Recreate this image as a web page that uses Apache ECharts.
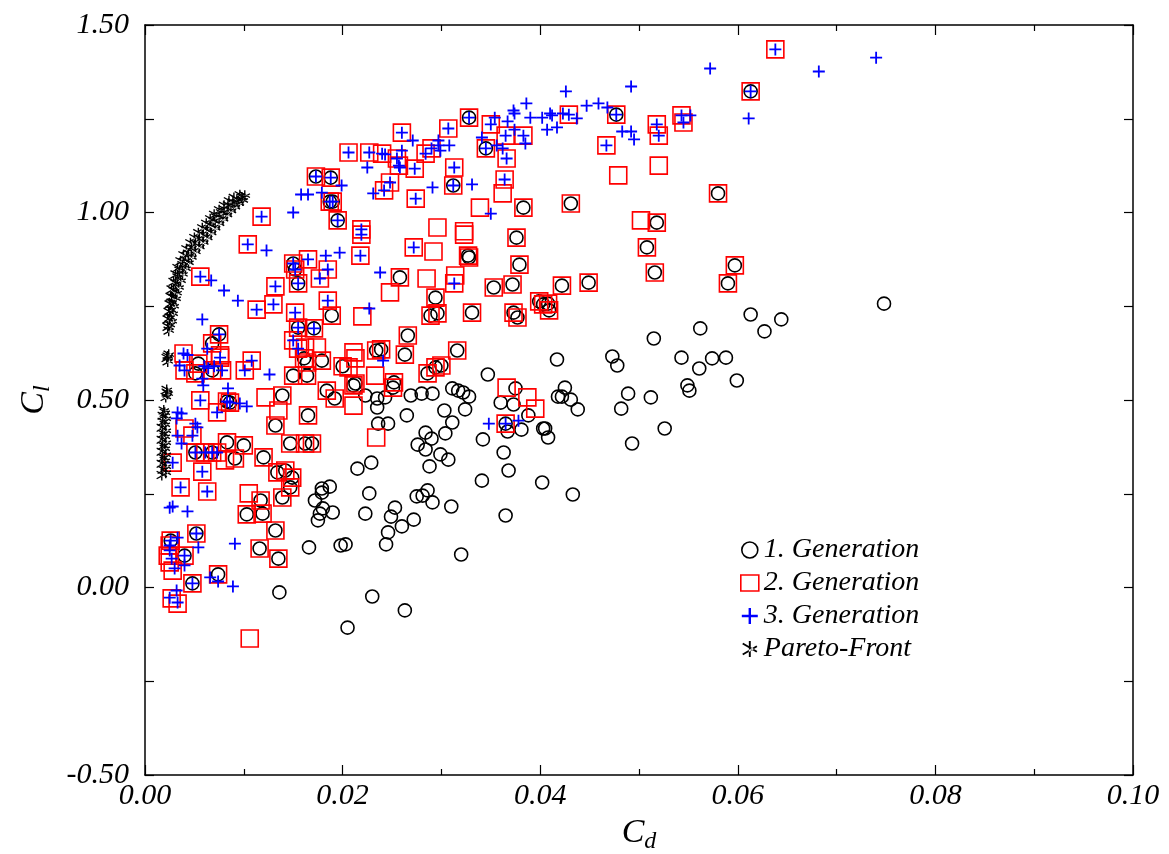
<!DOCTYPE html>
<html>
<head>
<meta charset="utf-8">
<title>Cl vs Cd</title>
<script src="https://cdn.jsdelivr.net/npm/echarts@6/dist/echarts.min.js"></script>
<style>
  html, body { margin: 0; padding: 0; background: #fff; }
  #chart { width: 1169px; height: 854px; }
</style>
</head>
<body>
<div id="chart"></div>
<script>
// Axis ticks
const xTicks = [0.00, 0.02, 0.04, 0.06, 0.08, 0.10];
const yTicks = [-0.50, 0.00, 0.50, 1.00, 1.50];

// Legend names
const seriesNames = ['1. Generation', '2. Generation', '3. Generation', 'Pareto-Front'];

// Designs present in all three generations  [Cd, Cl]
const inGen123 = [
  [0.0173, 1.096], [0.0188, 1.093], [0.0187, 1.029], [0.0190, 1.029], [0.0195, 0.979],
  [0.0328, 1.253], [0.0345, 1.171], [0.0312, 1.072], [0.0613, 1.323], [0.0477, 1.261],
  [0.0150, 0.864], [0.0152, 0.848], [0.0155, 0.811], [0.0155, 0.693], [0.0171, 0.691],
  [0.0075, 0.675], [0.0086, 0.493], [0.0083, 0.496], [0.0052, 0.144], [0.0026, 0.125],
  [0.0040, 0.085], [0.0048, 0.011], [0.0365, 0.437], [0.0051, 0.360], [0.0068, 0.360]
];

// Designs kept from generation 1 into generation 2
const inGen12 = [
  [0.0580, 1.051], [0.0431, 1.024], [0.0518, 0.973], [0.0383, 1.013],
  [0.0327, 0.885], [0.0328, 0.880], [0.0376, 0.933], [0.0379, 0.861], [0.0258, 0.827],
  [0.0294, 0.773], [0.0353, 0.800], [0.0372, 0.808], [0.0399, 0.763], [0.0403, 0.755],
  [0.0289, 0.725], [0.0296, 0.731], [0.0331, 0.733], [0.0373, 0.733], [0.0377, 0.720],
  [0.0266, 0.672], [0.0316, 0.632], [0.0234, 0.632], [0.0239, 0.635], [0.0263, 0.621],
  [0.0300, 0.592], [0.0294, 0.587], [0.0286, 0.571], [0.0213, 0.544], [0.0211, 0.539],
  [0.0252, 0.547], [0.0251, 0.533],
  [0.0508, 0.907], [0.0516, 0.840], [0.0597, 0.859], [0.0590, 0.811], [0.0422, 0.805],
  [0.0449, 0.813], [0.0408, 0.757], [0.0409, 0.739],
  [0.0189, 0.725], [0.0161, 0.611], [0.0164, 0.600], [0.0179, 0.605], [0.0150, 0.565],
  [0.0164, 0.565], [0.0184, 0.525], [0.0192, 0.504], [0.0139, 0.512], [0.0165, 0.459],
  [0.0132, 0.432], [0.0068, 0.651], [0.0051, 0.571], [0.0068, 0.579], [0.0054, 0.597],
  [0.0200, 0.590],
  [0.0083, 0.387], [0.0100, 0.379], [0.0091, 0.344], [0.0120, 0.347], [0.0134, 0.307],
  [0.0142, 0.312], [0.0149, 0.293], [0.0147, 0.267], [0.0139, 0.240], [0.0117, 0.232],
  [0.0119, 0.197], [0.0103, 0.195], [0.0132, 0.152], [0.0116, 0.104], [0.0135, 0.077],
  [0.0074, 0.035], [0.0147, 0.384], [0.0162, 0.384], [0.0169, 0.384]
];

// Designs of generation 2 kept into generation 3
const inGen23 = [
  [0.0118, 0.989],
  [0.0307, 1.224], [0.0350, 1.235], [0.0365, 1.205], [0.0383, 1.205], [0.0366, 1.144],
  [0.0260, 1.213], [0.0290, 1.171], [0.0206, 1.160], [0.0227, 1.160], [0.0255, 1.144],
  [0.0273, 1.117], [0.0284, 1.157], [0.0248, 1.080], [0.0242, 1.059], [0.0313, 1.120],
  [0.0274, 1.037], [0.0364, 1.088], [0.0219, 0.955], [0.0240, 1.157], [0.0257, 1.125],
  [0.0638, 1.435], [0.0518, 1.235], [0.0520, 1.205], [0.0543, 1.259], [0.0545, 1.240],
  [0.0467, 1.179], [0.0429, 1.261],
  [0.0104, 0.915], [0.0056, 0.829], [0.0113, 0.741], [0.0130, 0.755], [0.0132, 0.803],
  [0.0165, 0.875], [0.0185, 0.848], [0.0177, 0.824], [0.0185, 0.765], [0.0152, 0.733],
  [0.0150, 0.659], [0.0155, 0.637], [0.0108, 0.605], [0.0101, 0.579], [0.0039, 0.624],
  [0.0076, 0.613], [0.0078, 0.579], [0.0040, 0.579], [0.0056, 0.499], [0.0073, 0.467],
  [0.0219, 0.941], [0.0218, 0.885], [0.0272, 0.907], [0.0313, 0.811],
  [0.0048, 0.405], [0.0061, 0.360], [0.0073, 0.360], [0.0028, 0.333], [0.0058, 0.309],
  [0.0036, 0.267], [0.0063, 0.256], [0.0025, 0.112]
];

// Generation 1 only
const gen1Only = [
  [0.0347, 0.568], [0.0223, 0.512], [0.0235, 0.504], [0.0243, 0.507], [0.0235, 0.480],
  [0.0269, 0.512], [0.0280, 0.517], [0.0291, 0.517], [0.0311, 0.531], [0.0317, 0.525],
  [0.0322, 0.520], [0.0328, 0.509], [0.0303, 0.472], [0.0265, 0.459], [0.0236, 0.437],
  [0.0246, 0.437], [0.0311, 0.440], [0.0324, 0.475], [0.0375, 0.531], [0.0360, 0.493],
  [0.0373, 0.488], [0.0388, 0.459], [0.0367, 0.416], [0.0381, 0.421], [0.0403, 0.424],
  [0.0405, 0.424], [0.0408, 0.400], [0.0284, 0.413], [0.0304, 0.411], [0.0290, 0.397],
  [0.0276, 0.381], [0.0284, 0.368], [0.0299, 0.355], [0.0307, 0.341], [0.0288, 0.323],
  [0.0342, 0.395], [0.0363, 0.360], [0.0368, 0.312], [0.0341, 0.285], [0.0229, 0.333],
  [0.0215, 0.317], [0.0227, 0.251], [0.0223, 0.197], [0.0286, 0.259], [0.0275, 0.243],
  [0.0281, 0.245], [0.0291, 0.227], [0.0310, 0.216], [0.0253, 0.213], [0.0249, 0.189],
  [0.0260, 0.163], [0.0272, 0.181], [0.0246, 0.147], [0.0244, 0.115], [0.0203, 0.115],
  [0.0365, 0.192], [0.0320, 0.088], [0.0402, 0.280], [0.0230, -0.024], [0.0263, -0.061],
  [0.0205, -0.107], [0.0433, 0.248], [0.0493, 0.384],
  [0.0748, 0.757], [0.0613, 0.728], [0.0644, 0.715], [0.0627, 0.683], [0.0562, 0.691],
  [0.0515, 0.664], [0.0417, 0.608], [0.0473, 0.616], [0.0478, 0.592], [0.0543, 0.613],
  [0.0574, 0.611], [0.0588, 0.613], [0.0561, 0.584], [0.0599, 0.552], [0.0549, 0.539],
  [0.0551, 0.525], [0.0425, 0.533], [0.0418, 0.509], [0.0422, 0.509], [0.0431, 0.501],
  [0.0438, 0.475], [0.0489, 0.517], [0.0512, 0.507], [0.0482, 0.477], [0.0526, 0.424],
  [0.0179, 0.264], [0.0187, 0.269], [0.0179, 0.253], [0.0172, 0.232], [0.0180, 0.211],
  [0.0177, 0.197], [0.0175, 0.179], [0.0190, 0.200], [0.0166, 0.107], [0.0198, 0.112],
  [0.0136, -0.013]
];

// Generation 2 only
const gen2Only = [
  [0.0362, 1.051], [0.0339, 1.013], [0.0296, 0.960], [0.0323, 0.950],
  [0.0479, 1.099], [0.0520, 1.125], [0.0502, 0.979],
  [0.0323, 0.941], [0.0292, 0.896], [0.0285, 0.824], [0.0314, 0.832], [0.0248, 0.787],
  [0.0220, 0.723], [0.0211, 0.627], [0.0213, 0.611], [0.0206, 0.587], [0.0233, 0.565],
  [0.0211, 0.485], [0.0366, 0.533], [0.0387, 0.507], [0.0395, 0.477], [0.0234, 0.400],
  [0.0162, 0.640], [0.0174, 0.640], [0.0122, 0.507], [0.0135, 0.472], [0.0076, 0.619],
  [0.0040, 0.424],
  [0.0081, 0.339], [0.0105, 0.251], [0.0023, 0.085], [0.0025, 0.067], [0.0028, 0.045],
  [0.0027, -0.029], [0.0033, -0.043], [0.0106, -0.136]
];

// Generation 3 only
const gen3Only = [
  [0.0199, 1.072], [0.0158, 1.048], [0.0165, 1.048], [0.0179, 1.053], [0.0150, 1.000],
  [0.0354, 1.253], [0.0367, 1.243], [0.0373, 1.272], [0.0374, 1.264], [0.0386, 1.291],
  [0.0390, 1.253], [0.0402, 1.253], [0.0374, 1.221], [0.0385, 1.184], [0.0341, 1.200],
  [0.0356, 1.179], [0.0362, 1.171], [0.0271, 1.192], [0.0297, 1.192], [0.0297, 1.179],
  [0.0299, 1.165], [0.0308, 1.179], [0.0243, 1.155], [0.0260, 1.165], [0.0258, 1.120],
  [0.0225, 1.120], [0.0231, 1.051], [0.0291, 1.067], [0.0331, 1.075], [0.0350, 0.997],
  [0.0740, 1.413], [0.0682, 1.376], [0.0572, 1.384], [0.0611, 1.251], [0.0492, 1.336],
  [0.0426, 1.323], [0.0410, 1.264], [0.0412, 1.259], [0.0423, 1.264], [0.0437, 1.251],
  [0.0447, 1.285], [0.0459, 1.291], [0.0468, 1.280], [0.0407, 1.221], [0.0417, 1.227],
  [0.0483, 1.216], [0.0492, 1.216], [0.0495, 1.195], [0.0552, 1.259],
  [0.0123, 0.899], [0.0067, 0.819], [0.0080, 0.792], [0.0094, 0.765], [0.0058, 0.715],
  [0.0183, 0.885], [0.0197, 0.893], [0.0126, 0.568], [0.0063, 0.637], [0.0035, 0.592],
  [0.0060, 0.590], [0.0064, 0.585], [0.0070, 0.590], [0.0058, 0.557], [0.0059, 0.539],
  [0.0084, 0.531], [0.0096, 0.491], [0.0103, 0.483], [0.0033, 0.467], [0.0037, 0.464],
  [0.0032, 0.451], [0.0051, 0.437], [0.0053, 0.427], [0.0043, 0.620],
  [0.0238, 0.840], [0.0227, 0.744], [0.0241, 0.605], [0.0348, 0.437], [0.0378, 0.445],
  [0.0033, 0.405], [0.0037, 0.384], [0.0025, 0.213], [0.0028, 0.216], [0.0043, 0.203],
  [0.0091, 0.117], [0.0033, 0.133], [0.0025, 0.099], [0.0027, 0.077], [0.0040, 0.059],
  [0.0030, 0.051], [0.0054, 0.107], [0.0066, 0.027], [0.0074, 0.016], [0.0089, 0.003],
  [0.0032, -0.008], [0.0025, -0.027], [0.0033, -0.040]
];

// Non-dominated designs
const paretoFront = [
  [0.0017, 0.300], [0.0021, 0.306], [0.0018, 0.314], [0.0021, 0.322], [0.0017, 0.330],
  [0.0020, 0.338], [0.0018, 0.346], [0.0021, 0.354], [0.0017, 0.362], [0.0020, 0.370],
  [0.0018, 0.378], [0.0021, 0.386], [0.0017, 0.394], [0.0020, 0.402], [0.0018, 0.410],
  [0.0021, 0.418], [0.0017, 0.426], [0.0020, 0.434], [0.0018, 0.442], [0.0021, 0.450],
  [0.0018, 0.458], [0.0020, 0.466], [0.0019, 0.472],
  [0.0021, 0.508], [0.0023, 0.517], [0.0022, 0.527], [0.0022, 0.520],
  [0.0023, 0.603], [0.0022, 0.612], [0.0024, 0.621], [0.0023, 0.616],
  [0.0024, 0.685], [0.0025, 0.700], [0.0025, 0.720], [0.0026, 0.740], [0.0027, 0.760],
  [0.0028, 0.773], [0.0029, 0.790], [0.0031, 0.810], [0.0033, 0.827], [0.0035, 0.845],
  [0.0038, 0.860], [0.0041, 0.872], [0.0044, 0.890], [0.0047, 0.905], [0.0051, 0.917],
  [0.0055, 0.930], [0.0059, 0.940], [0.0063, 0.952], [0.0066, 0.965], [0.0069, 0.977],
  [0.0072, 0.987], [0.0077, 0.998], [0.0080, 1.008], [0.0084, 1.019], [0.0089, 1.027],
  [0.0093, 1.034], [0.0098, 1.040], [0.0101, 1.045],
  [0.0027, 0.710], [0.0028, 0.730], [0.0029, 0.750], [0.0031, 0.770], [0.0032, 0.785],
  [0.0034, 0.800], [0.0036, 0.818], [0.0038, 0.835], [0.0041, 0.850], [0.0044, 0.866],
  [0.0047, 0.880], [0.0051, 0.895], [0.0055, 0.908], [0.0059, 0.920], [0.0063, 0.932],
  [0.0067, 0.945], [0.0071, 0.958], [0.0075, 0.970], [0.0079, 0.982], [0.0083, 0.993],
  [0.0087, 1.004], [0.0091, 1.014], [0.0095, 1.024], [0.0099, 1.032],
  [0.0023, 0.695], [0.0023, 0.715], [0.0024, 0.735], [0.0025, 0.755], [0.0026, 0.775],
  [0.0027, 0.795], [0.0029, 0.815], [0.0031, 0.835], [0.0033, 0.852], [0.0036, 0.870],
  [0.0039, 0.886], [0.0042, 0.902], [0.0046, 0.918], [0.0050, 0.932], [0.0054, 0.945],
  [0.0058, 0.958], [0.0062, 0.970], [0.0066, 0.982], [0.0070, 0.994], [0.0075, 1.006],
  [0.0080, 1.018], [0.0085, 1.030], [0.0090, 1.039], [0.0096, 1.046]
];

const SERIF = '"Liberation Serif", "DejaVu Serif", serif';
const PLUS = 'path://M0,8.5h20v3h-20z M8.5,0h3v20h-3z';
const STAR = 'path://M4.4,0h1.2v10h-1.2z M0.27,2.1l0.6,-1.04l8.86,5.12l-0.6,1.04z M0.27,7.9l0.6,1.04l8.86,-5.12l-0.6,-1.04z';

const gen1 = gen1Only.concat(inGen12, inGen123);
const gen2 = gen2Only.concat(inGen12, inGen23, inGen123);
const gen3 = gen3Only.concat(inGen23, inGen123);

const fmt = v => v.toFixed(2);
const nameRich = {
  c: { fontFamily: SERIF, fontStyle: 'italic', fontSize: 34, color: '#000' },
  s: { fontFamily: SERIF, fontStyle: 'italic', fontSize: 24, color: '#000', padding: [18, 0, 0, 0] }
};

function xAxisCfg(pos, labels) {
  return {
    type: 'value', position: pos, min: xTicks[0], max: xTicks[xTicks.length - 1], interval: 0.02,
    axisLine: { show: true, onZero: false, lineStyle: { color: '#000', width: 1.5 } },
    axisTick: { show: true, inside: true, length: 10, lineStyle: { color: '#000', width: 1.2 } },
    minorTick: { show: true, splitNumber: 2, length: 6, lineStyle: { color: '#000', width: 1.2 } },
    splitLine: { show: false },
    axisLabel: { show: labels, formatter: fmt, margin: 6, fontFamily: SERIF, fontStyle: 'italic', fontSize: 30, color: '#000' },
    name: labels ? '{c|C}{s|d}' : '', nameLocation: 'middle', nameGap: 30,
    nameTextStyle: { rich: nameRich }
  };
}
function yAxisCfg(pos, labels) {
  return {
    type: 'value', position: pos, min: yTicks[0], max: yTicks[yTicks.length - 1], interval: 0.5,
    axisLine: { show: true, onZero: false, lineStyle: { color: '#000', width: 1.5 } },
    axisTick: { show: true, inside: true, length: 9, lineStyle: { color: '#000', width: 1.2 } },
    minorTick: { show: true, splitNumber: 2, length: 9, lineStyle: { color: '#000', width: 1.2 } },
    splitLine: { show: false },
    axisLabel: { show: labels, formatter: fmt, margin: 16, fontFamily: SERIF, fontStyle: 'italic', fontSize: 30, color: '#000' },
    name: labels ? '{c|C}{s|l}' : '', nameLocation: 'middle', nameGap: 90, nameRotate: 90,
    nameTextStyle: { rich: nameRich }
  };
}

const chart = echarts.init(document.getElementById('chart'), null, { renderer: 'canvas' });
chart.setOption({
  backgroundColor: '#fff',
  animation: false,
  grid: { left: 145, right: 36, top: 25, bottom: 79, containLabel: false, outerBoundsMode: 'none' },
  xAxis: [xAxisCfg('bottom', true), xAxisCfg('top', false)],
  yAxis: [yAxisCfg('left', true), yAxisCfg('right', false)],
  legend: {
    orient: 'vertical', left: 735, top: 531, itemGap: 5, itemWidth: 18, itemHeight: 16,
    textStyle: { fontFamily: SERIF, fontStyle: 'italic', fontSize: 28, color: '#000' },
    data: [
      { name: seriesNames[0], icon: 'circle', itemStyle: { color: 'rgba(0,0,0,0)', borderColor: '#000', borderWidth: 1.6 } },
      { name: seriesNames[1], icon: 'rect', itemStyle: { color: 'rgba(0,0,0,0)', borderColor: '#f00', borderWidth: 1.6 } },
      { name: seriesNames[2], icon: PLUS, itemStyle: { color: '#00f' } },
      { name: seriesNames[3], icon: STAR, itemStyle: { color: '#000' } }
    ]
  },
  series: [
    { name: seriesNames[0], type: 'scatter', data: gen1, symbol: 'circle', symbolSize: 13,
      itemStyle: { color: 'rgba(0,0,0,0)', borderColor: '#000', borderWidth: 1.6, opacity: 1 } },
    { name: seriesNames[1], type: 'scatter', data: gen2, symbol: 'rect', symbolSize: 17,
      itemStyle: { color: 'rgba(0,0,0,0)', borderColor: '#f00', borderWidth: 1.6, opacity: 1 } },
    { name: seriesNames[2], type: 'scatter', data: gen3, symbol: PLUS, symbolSize: 12,
      itemStyle: { color: '#00f', opacity: 1 } },
    { name: seriesNames[3], type: 'scatter', data: paretoFront, symbol: STAR, symbolSize: 11,
      itemStyle: { color: '#000', opacity: 1 } }
  ]
});
</script>
</body>
</html>
